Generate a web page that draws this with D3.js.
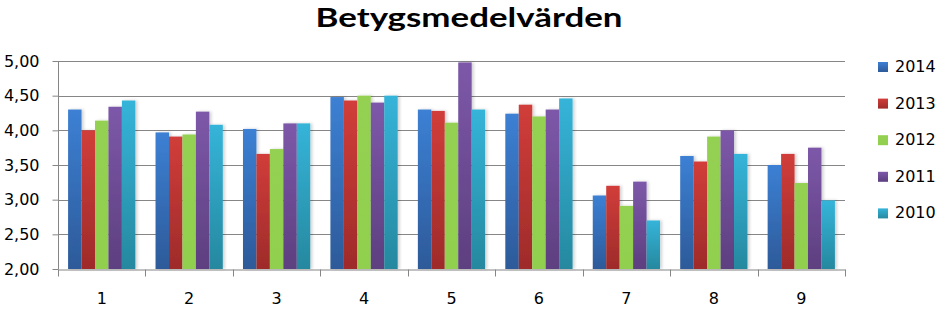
<!DOCTYPE html>
<html>
<head>
<meta charset="utf-8">
<script src="https://cdn.jsdelivr.net/npm/d3@7"></script>
<style>
  body { margin: 0; background: #fff; }
  svg { display: block; }
</style>
</head>
<body>
<div id="chart"></div>
<script>
var categories = ["1", "2", "3", "4", "5", "6", "7", "8", "9"];
var years = ["2014", "2013", "2012", "2011", "2010"];

var v2014 = [4.30, 3.97, 4.02, 4.48, 4.30, 4.24, 3.06, 3.63, 3.50];
var v2013 = [4.00, 3.91, 3.66, 4.43, 4.28, 4.37, 3.20, 3.55, 3.66];
var v2012 = [4.14, 3.94, 3.73, 4.50, 4.11, 4.20, 2.91, 3.91, 3.24];
var v2011 = [4.34, 4.27, 4.10, 4.40, 4.98, 4.30, 3.26, 4.00, 3.75];
var v2010 = [4.43, 4.08, 4.10, 4.50, 4.30, 4.46, 2.70, 3.66, 2.99];

var yTicks = [2.0, 2.5, 3.0, 3.5, 4.0, 4.5, 5.0];

var seriesValues = [v2014, v2013, v2012, v2011, v2010];
var colorTop = ["#3c80d4", "#d13d3a", "#94d152", "#7d58a9", "#35b4d9"];
var colorBottom = ["#2d5a99", "#9e2b2a", "#91cf4f", "#5d3f7f", "#26889f"];

var width = 940, height = 309;
var margin = {top: 61, right: 95, bottom: 40, left: 58};

var svg = d3.select("#chart").append("svg")
    .attr("width", width)
    .attr("height", height)
    .style("font-family", "DejaVu Sans");

var defs = svg.append("defs");
years.forEach(function(y, i) {
    var g = defs.append("linearGradient")
        .attr("id", "grad" + i)
        .attr("x1", 0).attr("y1", 0).attr("x2", 0).attr("y2", 1);
    g.append("stop").attr("offset", "0%").attr("stop-color", colorTop[i]);
    g.append("stop").attr("offset", "100%").attr("stop-color", colorBottom[i]);
});

var shadow = defs.append("filter").attr("id", "shadow")
    .attr("x", "-30%").attr("y", "-10%").attr("width", "160%").attr("height", "120%");
shadow.append("feDropShadow")
    .attr("dx", 2).attr("dy", 0).attr("stdDeviation", 1.5)
    .attr("flood-color", "#000").attr("flood-opacity", 0.18);

var plotW = 845 - margin.left;
var plotH = 269 - margin.top;

var x0 = d3.scaleBand().domain(categories).range([margin.left, margin.left + plotW]).paddingInner(0).paddingOuter(0);
var bandW = x0.bandwidth();
var barW = bandW / 6.5;
var x1 = d3.scaleBand().domain(years)
    .range([barW * 0.75, barW * 0.75 + barW * 5]).padding(0);

var y = d3.scaleLinear().domain([2, 5]).range([margin.top + plotH, margin.top]);

// gridlines
svg.append("g").selectAll("line")
    .data(yTicks.slice(1))
    .enter().append("line")
    .attr("x1", margin.left).attr("x2", margin.left + plotW)
    .attr("y1", function(d) { return Math.round(y(d)) + 0.5; })
    .attr("y2", function(d) { return Math.round(y(d)) + 0.5; })
    .attr("stroke", "#868686").attr("stroke-width", 1);

// bars
var groups = svg.append("g").selectAll("g")
    .data(categories)
    .enter().append("g")
    .attr("transform", function(d) { return "translate(" + x0(d) + ",0)"; });

groups.selectAll("rect")
    .data(function(d, ci) {
        return years.map(function(yr, si) { return {year: yr, si: si, value: seriesValues[si][ci]}; });
    })
    .enter().append("rect")
    .attr("x", function(d) { return x1(d.year); })
    .attr("width", x1.bandwidth())
    .attr("y", function(d) { return y(d.value); })
    .attr("height", function(d) { return y(2) - y(d.value); })
    .attr("fill", function(d) { return "url(#grad" + d.si + ")"; })
    .attr("filter", "url(#shadow)");

// y axis
var yAxis = d3.axisLeft(y)
    .tickValues(yTicks)
    .tickSize(6)
    .tickPadding(13)
    .tickFormat(function(d) { return d3.format(".2f")(d).replace(".", ","); });

var yg = svg.append("g")
    .attr("transform", "translate(" + (margin.left + 0.5) + ",0)")
    .call(yAxis);
yg.select(".domain").attr("stroke", "#868686").attr("d", "M0," + y(5) + "V" + y(2));
yg.selectAll(".tick line").attr("stroke", "#868686");
yg.selectAll(".tick text")
    .attr("font-family", "DejaVu Sans")
    .attr("font-size", 16)
    .attr("fill", "#000");

// x axis
var xAxis = d3.axisBottom(x0).tickSize(0).tickPadding(23);
var xg = svg.append("g")
    .attr("transform", "translate(0," + (Math.round(y(2)) + 0.5) + ")")
    .call(xAxis);
xg.select(".domain").attr("stroke", "#868686");
xg.selectAll(".tick text")
    .attr("font-family", "DejaVu Sans")
    .attr("font-size", 16)
    .attr("fill", "#000");

// category separator ticks
var seps = categories.map(function(c) { return x0(c); }).concat([margin.left + plotW]);
xg.append("g").selectAll("line")
    .data(seps)
    .enter().append("line")
    .attr("x1", function(d) { return Math.round(d) + 0.5; })
    .attr("x2", function(d) { return Math.round(d) + 0.5; })
    .attr("y1", 0).attr("y2", 7)
    .attr("stroke", "#868686");

// title
svg.append("text")
    .attr("x", 469)
    .attr("y", 27)
    .attr("text-anchor", "middle")
    .attr("font-family", "Lato")
    .attr("font-weight", "bold")
    .attr("font-size", 26)
    .attr("textLength", 307)
    .attr("lengthAdjust", "spacingAndGlyphs")
    .attr("fill", "#000")
    .text("Betygsmedelvärden");

// legend
var legend = svg.append("g").selectAll("g")
    .data(years)
    .enter().append("g")
    .attr("transform", function(d, i) { return "translate(878," + (62 + i * 36.6) + ")"; });

legend.append("rect")
    .attr("width", 10).attr("height", 10)
    .attr("fill", function(d, i) { return "url(#grad" + i + ")"; });

legend.append("text")
    .attr("x", 17)
    .attr("y", 10)
    .attr("font-family", "DejaVu Sans")
    .attr("font-size", 16)
    .attr("fill", "#000")
    .text(function(d) { return d; });
</script>
</body>
</html>
